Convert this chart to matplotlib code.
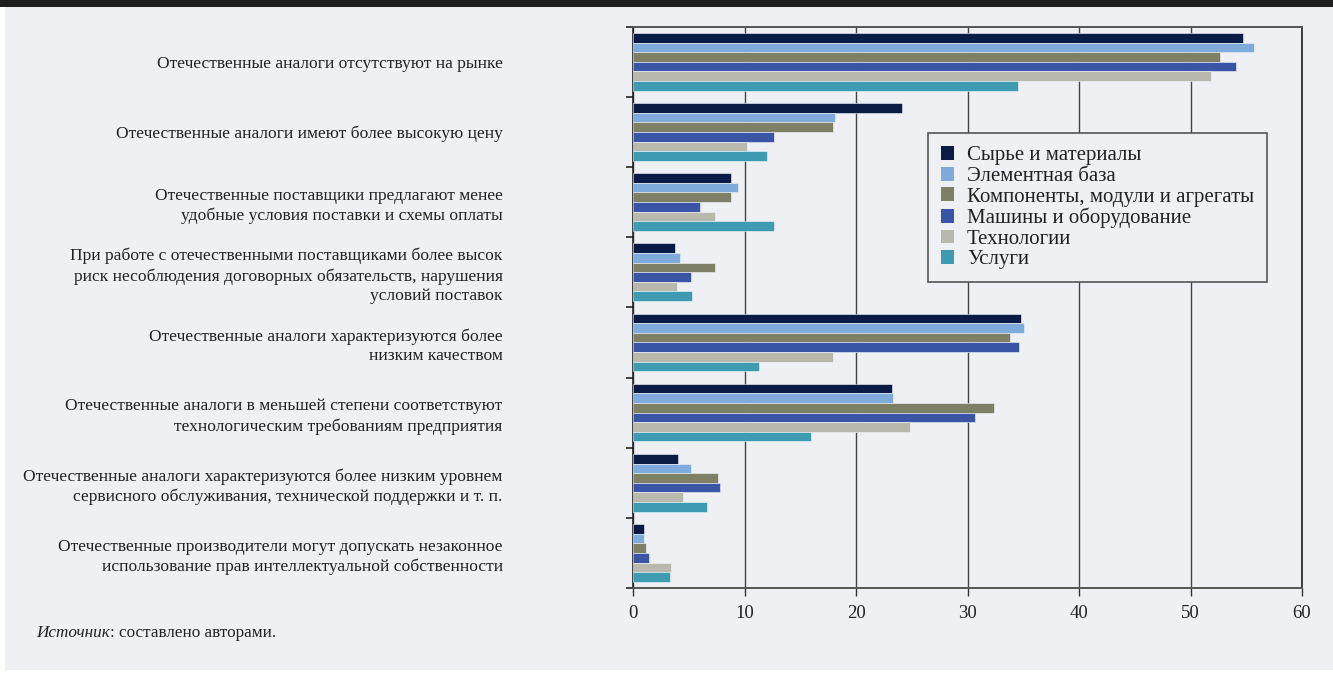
import matplotlib
matplotlib.use("Agg")
import matplotlib.pyplot as plt
from matplotlib.patches import Rectangle
import numpy as np

plt.rcParams['font.family'] = ['Liberation Serif', 'DejaVu Serif']

categories = [
    "Отечественные аналоги отсутствуют на рынке",
    "Отечественные аналоги имеют более высокую цену",
    "Отечественные поставщики предлагают менее\nудобные условия поставки и схемы оплаты",
    "При работе с отечественными поставщиками более высок\nриск несоблюдения договорных обязательств, нарушения\nусловий поставок",
    "Отечественные аналоги характеризуются более\nнизким качеством",
    "Отечественные аналоги в меньшей степени соответствуют\nтехнологическим требованиям предприятия",
    "Отечественные аналоги характеризуются более низким уровнем\nсервисного обслуживания, технической поддержки и т. п.",
    "Отечественные производители могут допускать незаконное\nиспользование прав интеллектуальной собственности",
]

series_names = [
    "Сырье и материалы",
    "Элементная база",
    "Компоненты, модули и агрегаты",
    "Машины и оборудование",
    "Технологии",
    "Услуги",
]

syrye = [54.7, 24.1, 8.75, 3.7, 34.8, 23.2, 4.05, 1.0]
element = [55.7, 18.1, 9.4, 4.2, 35.1, 23.3, 5.2, 1.0]
komponenty = [52.6, 17.9, 8.75, 7.3, 33.8, 32.4, 7.6, 1.1]
mashiny = [54.1, 12.6, 5.95, 5.2, 34.6, 30.7, 7.8, 1.45]
tehnologii = [51.8, 10.2, 7.3, 3.9, 17.9, 24.8, 4.5, 3.4]
uslugi = [34.5, 12.0, 12.6, 5.3, 11.3, 15.9, 6.6, 3.25]

series_values = [syrye, element, komponenty, mashiny, tehnologii, uslugi]
colors = ["#0a1c45", "#7fabdc", "#7e8065", "#3b55a6", "#b9b8ad", "#3f9bb1"]

x_ticks = [0, 10, 20, 30, 40, 50, 60]

W, H = 1333, 673
bg = "#eef0f4"
fig = plt.figure(figsize=(W / 100, H / 100), dpi=100, facecolor="white")

# light panel and dark header band
fig.patches.append(Rectangle((5 / W, 3 / H), (W - 5) / W, (H - 9) / H,
                             transform=fig.transFigure, facecolor=bg,
                             edgecolor="none", zorder=-10))
fig.patches.append(Rectangle((0, 1 - 7 / H), 1, 7 / H, transform=fig.transFigure,
                             facecolor="#1e1e1e", edgecolor="none", zorder=-9))

ax = fig.add_axes([633.3 / W, 1 - 588 / H, (1302 - 633.3) / W, (588 - 26.7) / H])
ax.set_facecolor(bg)

n = len(categories)
k = len(series_values)
bar_h = 0.137
y = np.arange(n)
for i, (vals, name, c) in enumerate(zip(series_values, series_names, colors)):
    offs = (i - (k - 1) / 2) * bar_h
    ax.barh(y + offs, vals, height=bar_h, color=c, label=name,
            edgecolor="#f4f6fa", linewidth=0.4, zorder=3)

ax.set_xlim(0, 60)
ax.set_ylim(n - 0.5, -0.5)
ax.set_xticks(x_ticks)
ax.set_xticklabels([str(t) for t in x_ticks], fontsize=13.5, color="#222222")
ax.set_yticks(y)
ax.set_yticklabels(categories, fontsize=12.6, color="#222222")
for lbl in ax.get_yticklabels():
    lbl.set_linespacing(1.3)
ax.set_yticks(np.arange(n + 1) - 0.5, minor=True)
ax.tick_params(axis='y', which='major', length=0, pad=94)
ax.tick_params(axis='y', which='minor', length=5, width=1.2, color="#222222")
ax.tick_params(axis='x', which='major', length=6, width=1, color="#333333", pad=6)

ax.grid(axis='x', color="#444444", linewidth=1, zorder=1)
for s in ['left', 'right']:
    ax.spines[s].set_color("#222222")
    ax.spines[s].set_linewidth(1.2)
for s in ['top', 'bottom']:
    ax.spines[s].set_color("#555555")
    ax.spines[s].set_linewidth(1.4)

leg = ax.legend(loc='upper left', bbox_to_anchor=((928 - 633.3) / (1302 - 633.3),
                                                  (588 - 133.3) / (588 - 26.7)),
                borderaxespad=0, fontsize=15, frameon=True, fancybox=False,
                handlelength=0.65, handleheight=0.65, handletextpad=0.6,
                labelspacing=0.06, borderpad=0.62, edgecolor="#555555")
leg.get_frame().set_facecolor(bg)
leg.get_frame().set_linewidth(1.2)
leg.get_frame().set_alpha(1)
for t in leg.get_texts():
    t.set_color("#222222")
for h in leg.legend_handles:
    h.set_edgecolor("none")

t1 = fig.text(36 / W, 1 - 633 / H, "Источник", fontsize=12.3, style='italic',
              color="#222222", va='center', ha='left')
ax.annotate(": составлено авторами.", xy=(1, 0.5), xycoords=t1, va='center',
            ha='left', fontsize=12.3, color="#222222", annotation_clip=False)

fig.savefig("out.png", dpi=100, facecolor=fig.get_facecolor())
